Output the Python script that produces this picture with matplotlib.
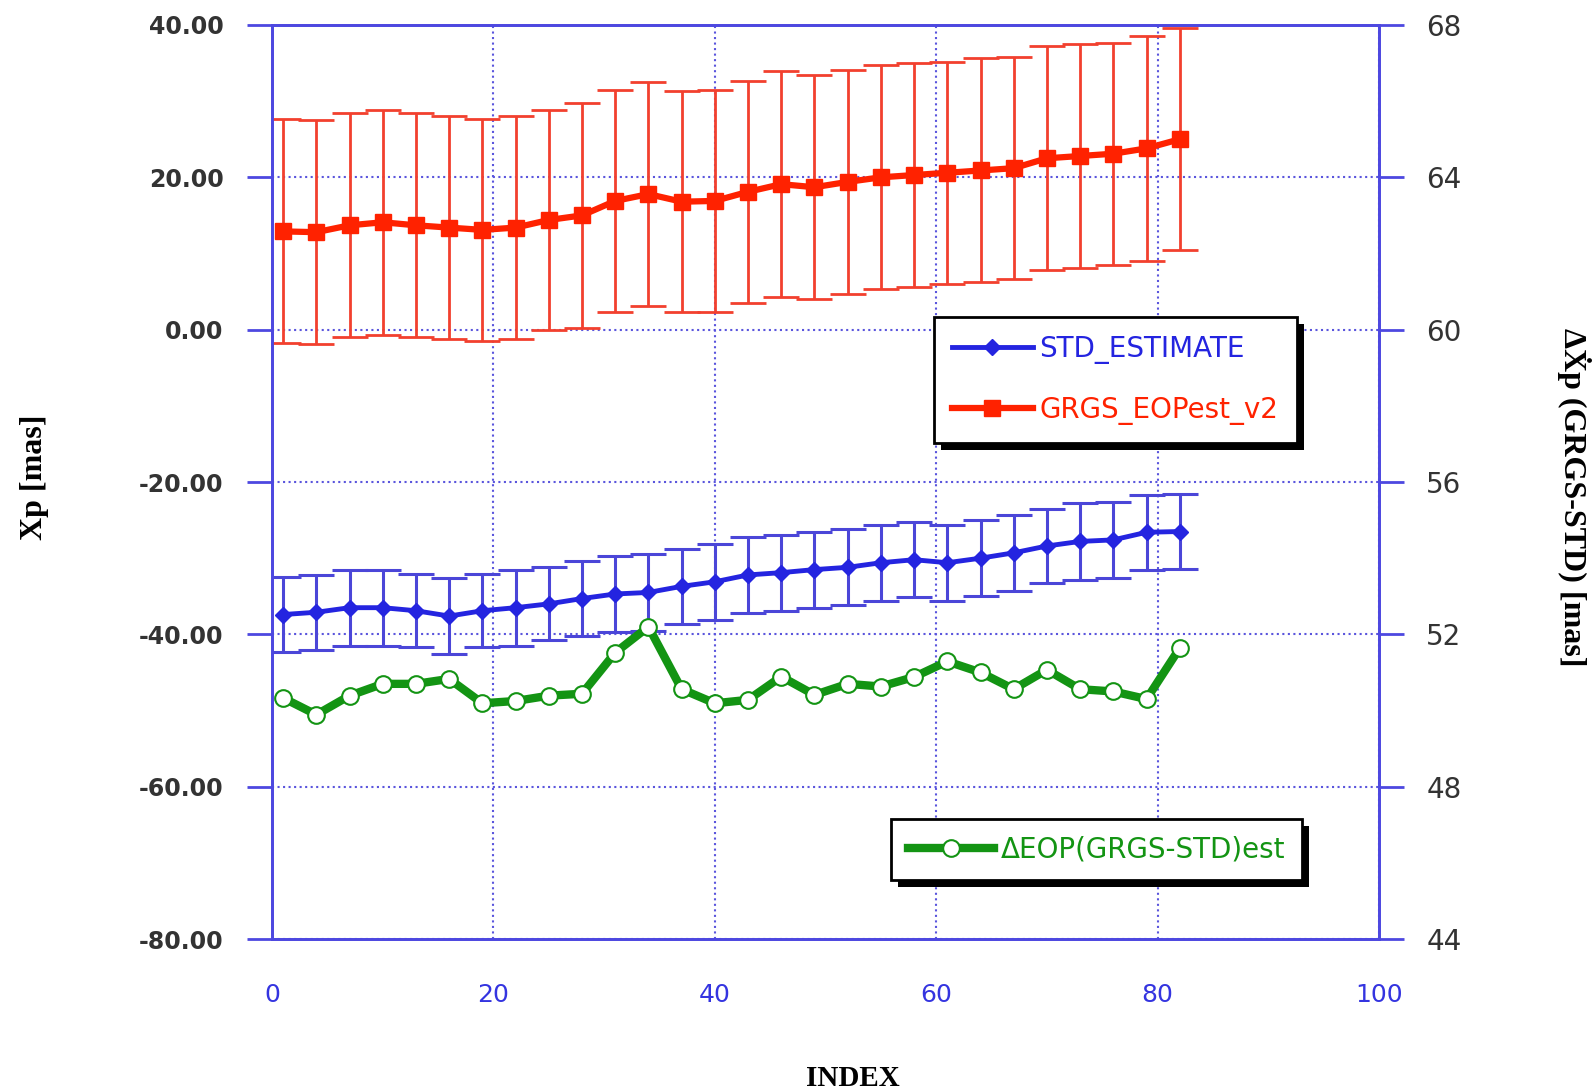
import matplotlib
matplotlib.use('Agg')
import matplotlib.pyplot as plt
from matplotlib.lines import Line2D
from matplotlib.patches import Rectangle
from matplotlib.transforms import IdentityTransform
from matplotlib.ticker import MultipleLocator, FormatStrFormatter

# index of each estimate
idx = [1, 4, 7, 10, 13, 16, 19, 22, 25, 28, 31, 34, 37, 40,
       43, 46, 49, 52, 55, 58, 61, 64, 67, 70, 73, 76, 79, 82]

# GRGS_EOPest_v2 (left axis, mas)
grgs = [12.9, 12.8, 13.7, 14.1, 13.7, 13.4, 13.1, 13.4, 14.4, 15.0, 16.9, 17.8, 16.8, 16.9,
        18.1, 19.1, 18.7, 19.4, 20.0, 20.3, 20.6, 20.9, 21.2, 22.5, 22.8, 23.1, 23.8, 25.0]
grgs_err = [14.7, 14.7, 14.7, 14.8, 14.7, 14.6, 14.6, 14.6, 14.5, 14.8, 14.6, 14.7, 14.5, 14.6,
            14.6, 14.8, 14.7, 14.7, 14.7, 14.7, 14.6, 14.7, 14.6, 14.7, 14.7, 14.6, 14.8, 14.6]

# STD_ESTIMATE (left axis, mas)
std = [-37.4, -37.1, -36.5, -36.5, -36.9, -37.6, -36.9, -36.5, -36.0, -35.3, -34.7, -34.5, -33.7, -33.1,
       -32.2, -31.9, -31.5, -31.2, -30.6, -30.2, -30.6, -30.0, -29.3, -28.4, -27.8, -27.6, -26.6, -26.5]
std_err = [4.9, 4.9, 5.0, 5.0, 4.8, 5.0, 4.8, 5.0, 4.8, 4.9, 5.0, 5.1, 4.9, 5.0,
           5.0, 5.0, 5.0, 5.0, 5.0, 4.9, 5.0, 5.0, 5.0, 4.8, 5.0, 5.0, 4.9, 4.9]

# delta EOP (right axis, mas)
delta = [50.33, 49.89, 50.39, 50.70, 50.70, 50.83, 50.19, 50.25, 50.39, 50.44, 51.52, 52.20, 50.56, 50.19,
         50.28, 50.89, 50.41, 50.70, 50.63, 50.88, 51.29, 51.00, 50.56, 51.07, 50.56, 50.50, 50.30, 51.64]

AXBLUE = '#4d48e0'
RED = '#ff2200'
BLUE = '#2424e0'
GREEN = '#139413'


def add_shadow(fig, ax, leg, off=7):
    # solid black drop shadow, a bit thicker than the legend default
    fig.canvas.draw()
    bb = leg.get_frame().get_window_extent()
    ax.add_patch(Rectangle((bb.x0 + off, bb.y0 - off), bb.width, bb.height,
                           transform=IdentityTransform(), facecolor='black',
                           edgecolor='none', zorder=4.9, clip_on=False))


def main():
    fig = plt.figure(figsize=(15.92, 10.91), dpi=100)
    ax = fig.add_axes([0.1709, 0.1393, 0.6953, 0.8378])
    ax2 = ax.twinx()

    ax.errorbar(idx, grgs, yerr=grgs_err, color=RED, lw=4.5, marker='s', ms=12,
                ecolor='#f2402e', elinewidth=2, capsize=13, capthick=2, zorder=3)
    ax.errorbar(idx, std, yerr=std_err, color=BLUE, lw=3.5, marker='D', ms=8,
                ecolor='#4b46d8', elinewidth=2.2, capsize=13, capthick=2.2, zorder=3)
    ax2.plot(idx, delta, color=GREEN, lw=6, marker='o', ms=12, mfc='white',
             mec=GREEN, mew=1.5, label='ΔEOP(GRGS-STD)est', zorder=4)

    ax.set_xlim(0, 100)
    ax.set_ylim(-80, 40)
    ax2.set_ylim(44, 68)

    ax.xaxis.set_major_locator(MultipleLocator(20))
    ax.yaxis.set_major_locator(MultipleLocator(20))
    ax2.yaxis.set_major_locator(MultipleLocator(4))
    ax.yaxis.set_major_formatter(FormatStrFormatter('%.2f'))

    ax.grid(True, which='major', color='#5a55dd', linestyle=':', linewidth=1.5)

    for a in (ax, ax2):
        for s in a.spines.values():
            s.set_color(AXBLUE)
            s.set_linewidth(2)

    ax.tick_params(axis='y', direction='out', length=18, width=2, color=AXBLUE,
                   pad=17, labelsize=17, labelcolor='#333333')
    for t in ax.get_yticklabels():
        t.set_fontweight('bold')
    ax.tick_params(axis='x', length=0, pad=32, labelsize=18, labelcolor='#3434e0')
    ax2.tick_params(axis='y', direction='out', length=18, width=2, color=AXBLUE,
                    pad=16, labelsize=20, labelcolor='#333333')

    serif = ['Liberation Serif', 'DejaVu Serif']
    fig.text(0.0214, 0.563, 'Xp [mas]', rotation=90, ha='center', va='center',
             fontsize=23, fontweight='bold', family=serif)
    fig.text(0.9887, 0.544, 'ΔẊp (GRGS-STD) [mas]', rotation=270, ha='center', va='center',
             fontsize=23, fontweight='bold', family=serif)
    fig.text(0.536, 0.0115, 'INDEX', ha='center', va='center',
             fontsize=21, fontweight='bold', family=serif)

    h_std = Line2D([], [], color=BLUE, lw=3.5, marker='D', ms=8)
    h_grgs = Line2D([], [], color=RED, lw=4.5, marker='s', ms=12)
    leg1 = ax.legend([h_std, h_grgs], ['STD_ESTIMATE', 'GRGS_EOPest_v2'], loc='upper left',
                     bbox_to_anchor=(0.5867, 0.7094), bbox_transform=fig.transFigure,
                     borderaxespad=0, fontsize=20, handlelength=2.9, handletextpad=0.25,
                     labelspacing=1.15, borderpad=0.65, fancybox=False, framealpha=1)
    leg1.get_frame().set_edgecolor('black')
    leg1.get_frame().set_linewidth(2)
    leg1.texts[0].set_color(BLUE)
    leg1.texts[1].set_color(RED)

    leg2 = ax2.legend(loc='upper left', bbox_to_anchor=(0.5597, 0.2493),
                      bbox_transform=fig.transFigure, borderaxespad=0, fontsize=20,
                      handlelength=3.1, handletextpad=0.25, borderpad=0.6,
                      fancybox=False, framealpha=1)
    leg2.get_frame().set_edgecolor('black')
    leg2.get_frame().set_linewidth(2)
    leg2.texts[0].set_color(GREEN)

    add_shadow(fig, ax, leg1)
    add_shadow(fig, ax2, leg2)

    plt.savefig('out.png', dpi=100)


if __name__ == '__main__':
    main()
